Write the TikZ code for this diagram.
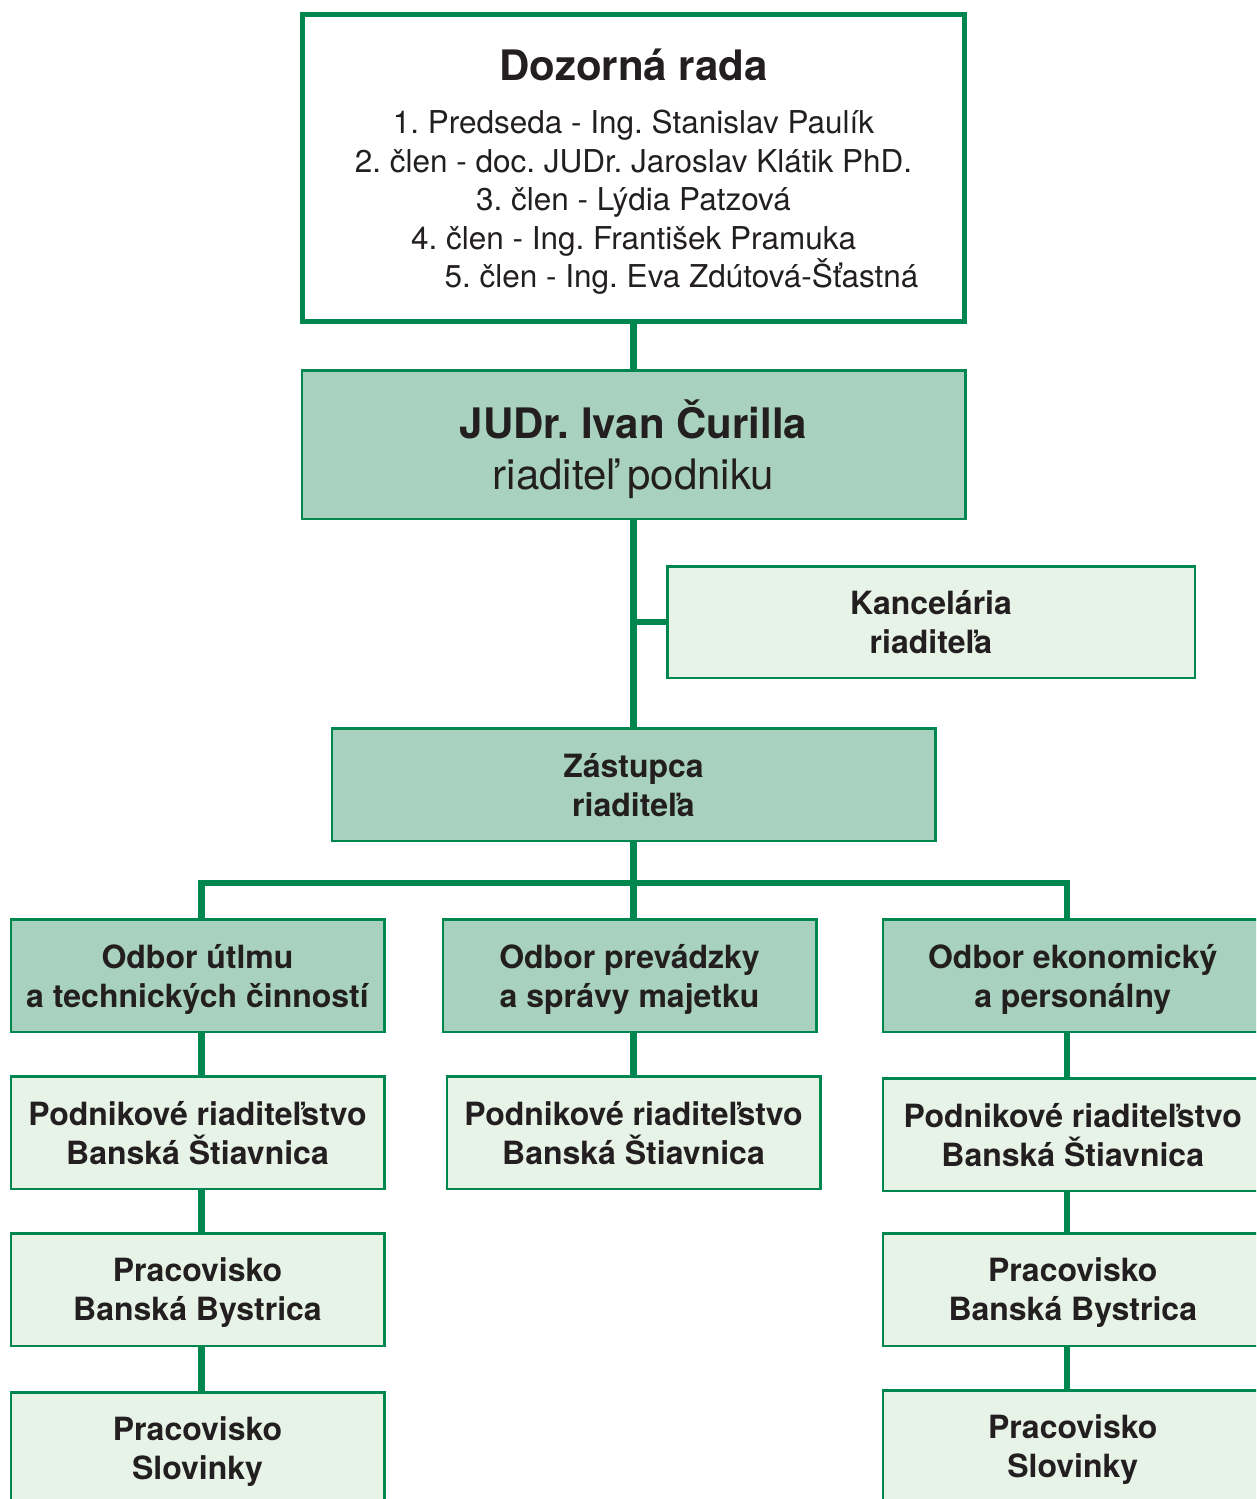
\documentclass[tikz,border=0pt]{standalone}
\usepackage{fontspec}
\setmainfont{TeX Gyre Heros}
\frenchspacing
\usetikzlibrary{positioning}
\definecolor{dgreen}{RGB}{0,135,80}
\definecolor{mgreen}{RGB}{168,210,191}
\definecolor{lgreen}{RGB}{232,243,231}
\definecolor{ink}{RGB}{35,31,32}
\tikzset{
    orgbox/.style={draw=dgreen, line width=2.5pt, text=ink, align=center, inner sep=0pt, text depth=0pt},
    boardbox/.style={orgbox, fill=white, line width=5pt, minimum width=662pt, minimum height=307pt, font=\fontsize{31.5}{38.5}\selectfont},
    headbox/.style={orgbox, fill=mgreen, minimum width=663.5pt, minimum height=148.5pt, font=\fontsize{42}{51}\selectfont},
    unitbox/.style={orgbox, fill=mgreen, minimum width=373.5pt, minimum height=112.5pt, font=\fontsize{32}{39}\selectfont\bfseries},
    subbox/.style={unitbox, fill=lgreen},
    conn/.style={draw=dgreen, line width=6.5pt},
}

\begin{document}
\begin{tikzpicture}[x=1pt, y=-1pt]
    \useasboundingbox (0,0) rectangle (1256,1499);
    \clip (0,0) rectangle (1256,1499);

    \node (DR) [boardbox] at (633.5,168) {{\fontsize{42}{50}\selectfont\bfseries Dozorná rada}\\[15pt]
        1. Predseda - Ing. Stanislav Paulík\\
        2. člen - doc. JUDr. Jaroslav Klátik PhD.\\
        3. člen - Lýdia Patzová\\
        4. člen - Ing. František Pramuka\\
        \hspace*{96pt}5. člen - Ing. Eva Zdútová-Šťastná};
    \node (RP) [headbox, below=45pt of DR] {\textbf{JUDr. Ivan Čurilla}\\ riaditeľ podniku};
    \node (KR) [subbox, minimum width=527.5pt, minimum height=111.5pt] at (931,622) {Kancelária\\ riaditeľa};
    \node (ZR) [unitbox, minimum width=603.5pt, below=207pt of RP] {Zástupca\\ riaditeľa};

    % odbory
    \node (OPS) [unitbox, below=76pt of ZR, xshift=-4pt] {Odbor prevádzky\\ a správy majetku};
    \node (OUT) [unitbox, left=56pt of OPS] {Odbor útlmu\\ a technických činností};
    \node (OEP) [unitbox, minimum width=380pt, right=64pt of OPS] {Odbor ekonomický\\ a personálny};

    % pracoviska
    \node (PR1) [subbox, below=42pt of OUT] {Podnikové riaditeľstvo\\ Banská Štiavnica};
    \node (PR2) [subbox, below=42pt of OPS, xshift=4pt] {Podnikové riaditeľstvo\\ Banská Štiavnica};
    \node (PR3) [subbox, minimum width=380pt, below=44pt of OEP] {Podnikové riaditeľstvo\\ Banská Štiavnica};
    \node (BB1) [subbox, below=42pt of PR1] {Pracovisko\\ Banská Bystrica};
    \node (BB3) [subbox, minimum width=380pt, below=40pt of PR3] {Pracovisko\\ Banská Bystrica};
    \node (SL1) [subbox, below=44pt of BB1] {Pracovisko\\ Slovinky};
    \node (SL3) [subbox, minimum width=380pt, below=42pt of BB3] {Pracovisko\\ Slovinky};

    \coordinate (bus) at ([yshift=-41pt]ZR.south);
    \coordinate (colL) at ([xshift=4pt]OUT.north);
    \coordinate (colR) at ([xshift=-6pt]OEP.north);

    \path [conn] (DR) -- (RP);
    \path [conn] (RP) -- (ZR);
    \path [conn] (KR) -- (KR -| RP);
    \path [conn] (ZR) -- (bus);
    \path [conn] (colL) |- (bus) -| (colR);
    \path [conn] (bus) -- (bus |- OPS.north);
    \path [conn] (OUT.south -| colL) -- (PR1.north -| colL);
    \path [conn] (OPS.south -| bus) -- (PR2.north -| bus);
    \path [conn] (OEP.south -| colR) -- (PR3.north -| colR);
    \path [conn] (PR1.south -| colL) -- (BB1.north -| colL);
    \path [conn] (PR3.south -| colR) -- (BB3.north -| colR);
    \path [conn] (BB1.south -| colL) -- (SL1.north -| colL);
    \path [conn] (BB3.south -| colR) -- (SL3.north -| colR);
\end{tikzpicture}
\end{document}
